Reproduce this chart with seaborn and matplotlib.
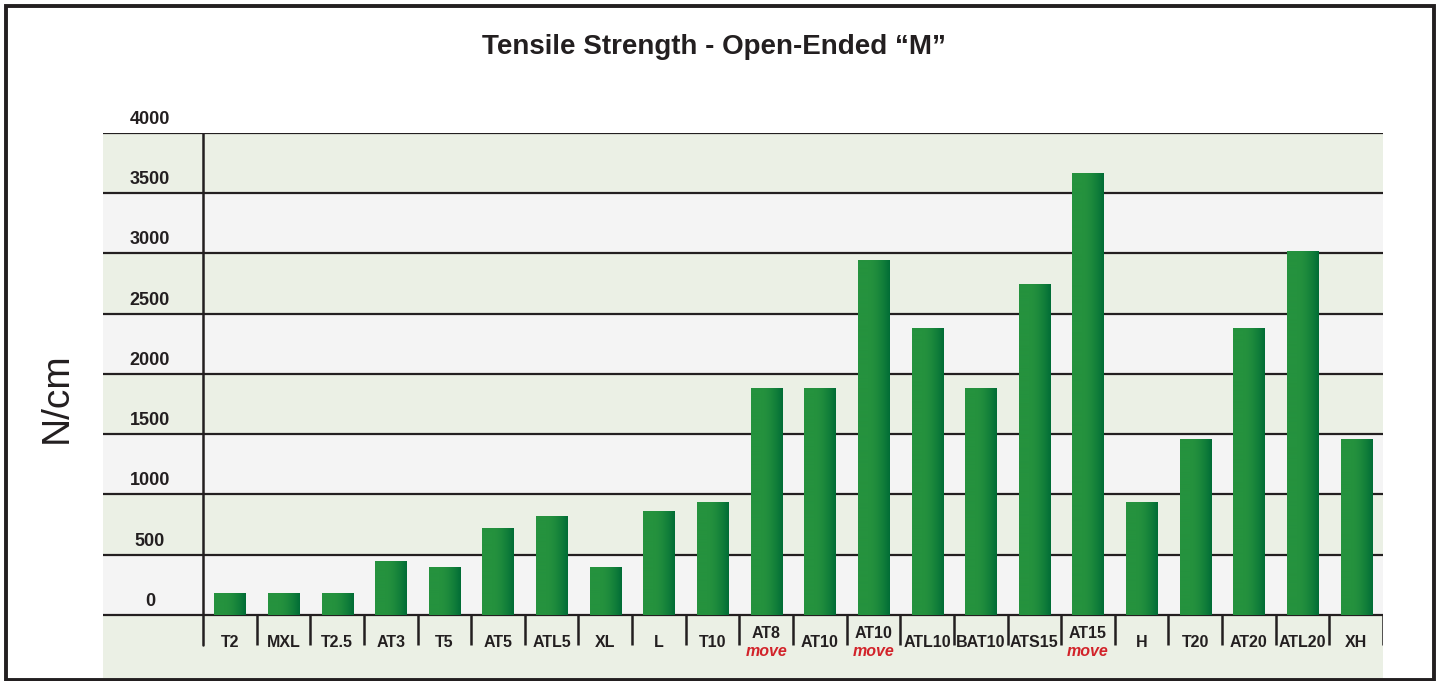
import numpy as np
import matplotlib
matplotlib.use("Agg")
import matplotlib.pyplot as plt
import seaborn as sns
from matplotlib import font_manager
from matplotlib.font_manager import FontProperties
from matplotlib.patches import Rectangle
from matplotlib.colors import to_rgb

belts = ["T2", "MXL", "T2.5", "AT3", "T5", "AT5", "ATL5", "XL", "L", "T10", "AT8",
         "AT10", "AT10", "ATL10", "BAT10", "ATS15", "AT15", "H", "T20", "AT20", "ATL20", "XH"]
is_move = [False] * 10 + [True, False, True, False, False, False, True,
                          False, False, False, False, False]
strength = [180, 180, 180, 450, 400, 720, 820, 400, 860, 940, 1880,
            1880, 2950, 2380, 1880, 2750, 3670, 940, 1460, 2380, 3020, 1460]
yticks = [0, 500, 1000, 1500, 2000, 2500, 3000, 3500, 4000]

dark = "#231F20"
band_green = "#EBF0E5"
band_grey = "#F4F4F4"

sns.set_style("white")
plt.rcParams["font.family"] = ["Liberation Sans", "DejaVu Sans"]


def font_file(name):
    for f in font_manager.fontManager.ttflist:
        if f.fname.endswith(name):
            return f.fname
    return None


def fp(name, size, weight="normal", style="normal"):
    path = font_file(name)
    if path:
        return FontProperties(fname=path, size=size)
    return FontProperties(family=["Liberation Sans", "DejaVu Sans"], size=size,
                          weight=weight, style=style)


bold = lambda s: fp("LiberationSans-Bold.ttf", s, "bold")
bold_it = lambda s: fp("LiberationSans-BoldItalic.ttf", s, "bold", "italic")
regular = lambda s: fp("LiberationSans-Regular.ttf", s)

fig = plt.figure(figsize=(14.4, 6.81), dpi=100)
ax = fig.add_axes([103 / 1440, 3 / 681, 1280 / 1440, 545 / 681])

n = len(belts)
sns.barplot(x=np.arange(n), y=strength, color="#24913D", saturation=1,
            width=0.58, linewidth=0, ax=ax, zorder=3)
bars = list(ax.patches)

# gradient fill on the bars (light green -> dark green on the right)
light = np.array(to_rgb("#25923E"))
deep = np.array(to_rgb("#006C36"))
t = np.linspace(0, 1, 256)
mix = np.clip((t - 0.35) / 0.65, 0, 1) ** 1.6
grad = (light[None, :] * (1 - mix[:, None]) + deep[None, :] * mix[:, None])[None, :, :]
for bar in bars:
    x0, y0 = bar.get_x(), bar.get_y()
    w, h = bar.get_width(), bar.get_height()
    im = ax.imshow(grad, extent=[x0, x0 + w, y0, y0 + h], aspect="auto",
                   origin="lower", zorder=3.5)
    im.set_clip_path(bar)

# alternating background bands
for i in range(len(yticks) - 1):
    col = band_grey if i % 2 == 0 else band_green
    ax.axhspan(yticks[i], yticks[i + 1], color=col, zorder=0, lw=0)
ax.axhspan(-600, 0, color=band_green, zorder=0, lw=0)

xmin = -0.5 - 100 / 53.6
for v in yticks:
    ax.axhline(v, color=dark, lw=1.6, zorder=2)
    ax.text(-1.49, v + 112, str(v), ha="center", va="center",
            fontproperties=bold(13), color=dark, clip_on=False)

ax.plot([-0.5, -0.5], [-250, 4000], color=dark, lw=1.8, zorder=4)
ax.vlines(np.arange(0.5, n, 1), -250, 0, color=dark, lw=1.8, zorder=4)

for i, name in enumerate(belts):
    if is_move[i]:
        ax.text(i, -150, name, ha="center", va="center",
                fontproperties=bold(11.5), color=dark)
        ax.text(i, -300, "move", ha="center", va="center",
                fontproperties=bold_it(11.5), color="#D2232A")
    else:
        ax.text(i, -232, name, ha="center", va="center",
                fontproperties=bold(11.5), color=dark)

ax.set_xlim(xmin, n - 0.5)
ax.set_ylim(-523, 4000)
ax.set_xticks([])
ax.set_yticks([])
ax.set_xlabel("")
ax.set_ylabel("")
for s in ax.spines.values():
    s.set_visible(False)

fig.text(57 / 1440, 1 - 398 / 681, "N/cm", rotation=90,
         ha="center", va="center", fontproperties=regular(28), color=dark)
fig.text(714 / 1440, 1 - 47 / 681, "Tensile Strength - Open-Ended \u201cM\u201d",
         ha="center", va="center", fontproperties=bold(20), color=dark)

fig.add_artist(Rectangle((5.5 / 1440, 1.5 / 681), 1428 / 1440, 674 / 681,
                         transform=fig.transFigure, fill=False,
                         edgecolor=dark, lw=2.8))

fig.savefig("out.png", dpi=100, facecolor="white")
